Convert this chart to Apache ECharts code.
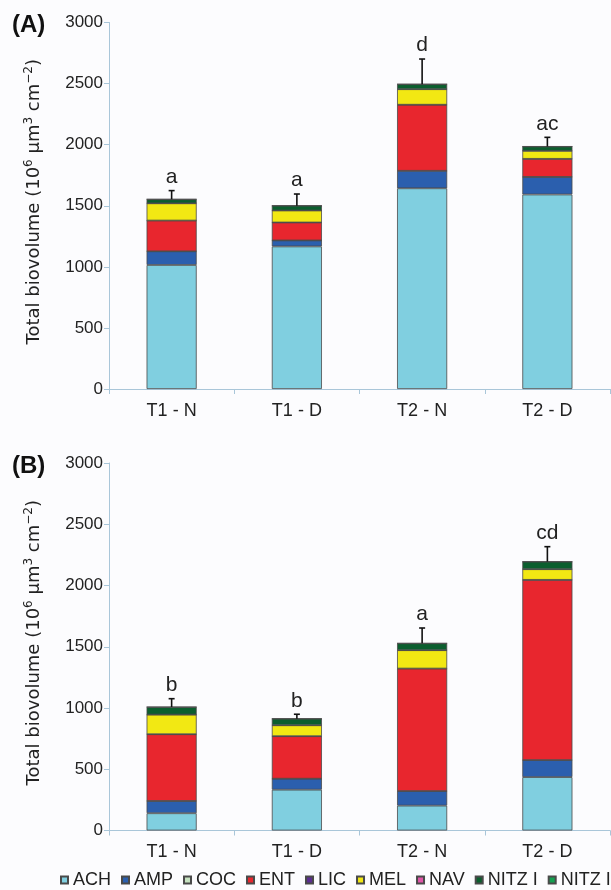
<!DOCTYPE html>
<html>
<head>
<meta charset="utf-8">
<script src="https://cdn.jsdelivr.net/npm/echarts@6/dist/echarts.min.js"></script>
<style>html,body{margin:0;padding:0;background:#fcfcfe;}#c{width:611px;height:890px;}</style>
</head>
<body>
<div id="c"></div>
<script>
const categories = ['T1 - N', 'T1 - D', 'T2 - N', 'T2 - D'];
const taxa = ['ACH', 'AMP', 'COC', 'ENT', 'LIC', 'MEL', 'NAV', 'NITZ I', 'NITZ II'];
const yTicks = [0, 500, 1000, 1500, 2000, 2500, 3000];

// Panel A values (10^6 µm^3 cm^-2)
const A_ACH = [1015, 1167, 1643, 1592];
const A_AMP = [112, 49, 143, 144];
const A_COC = [0, 0, 0, 0];
const A_ENT = [252, 147, 541, 148];
const A_LIC = [0, 0, 0, 0];
const A_MEL = [141, 98, 127, 66];
const A_NAV = [0, 0, 0, 0];
const A_NITZ1 = [33, 40, 41, 35];
const A_NITZ2 = [0, 0, 0, 0];
const A_err = [71, 95, 206, 75];
const A_letters = ['a', 'a', 'd', 'ac'];

// Panel B values
const B_ACH = [141, 333, 203, 436];
const B_AMP = [100, 90, 119, 139];
const B_COC = [0, 0, 0, 0];
const B_ENT = [545, 347, 1000, 1471];
const B_LIC = [0, 0, 0, 0];
const B_MEL = [160, 89, 150, 87];
const B_NAV = [0, 0, 0, 0];
const B_NITZ1 = [62, 54, 56, 62];
const B_NITZ2 = [0, 0, 0, 0];
const B_err = [68, 36, 125, 122];
const B_letters = ['b', 'b', 'a', 'cd'];

const colors = ['#80cfe0', '#2b5fae', '#c6e2c0', '#e8262e', '#5b2d90', '#f2e813', '#e055a8', '#0b5e2e', '#14a050'];

const A_sets = [A_ACH, A_AMP, A_COC, A_ENT, A_LIC, A_MEL, A_NAV, A_NITZ1, A_NITZ2];
const B_sets = [B_ACH, B_AMP, B_COC, B_ENT, B_LIC, B_MEL, B_NAV, B_NITZ1, B_NITZ2];

function totals(sets) {
  return categories.map((_, i) => sets.reduce((s, arr) => s + arr[i], 0));
}

const axisColor = '#a9c6d9';
const textColor = '#222';
const yName = '{n|Total biovolume (10}{s|6}{n| \u00b5m}{s|3}{n| cm}{s|\u22122}{n|)}';

function makeX(gi) {
  return {
    type: 'category', gridIndex: gi, data: categories,
    axisLine: {lineStyle: {color: axisColor, width: 1}},
    axisTick: {show: true, length: 5, lineStyle: {color: axisColor}},
    axisLabel: {color: textColor, fontSize: 18, fontFamily: 'Liberation Sans, Arial', margin: 13}
  };
}
function makeY(gi) {
  return {
    type: 'value', gridIndex: gi, min: 0, max: 3000, interval: 500,
    name: yName, nameLocation: 'middle', nameGap: 63,
    nameTextStyle: {
      color: textColor, fontSize: 18, fontFamily: 'DejaVu Sans', padding: [0, 0, 0, 8],
      rich: {
        n: {fontSize: 18, fontFamily: 'DejaVu Sans', color: textColor, lineHeight: 23},
        s: {fontSize: 12, fontFamily: 'DejaVu Sans', color: textColor, lineHeight: 23, verticalAlign: 'top'}
      }
    },
    axisLine: {show: true, lineStyle: {color: axisColor, width: 1}},
    axisTick: {show: true, length: 5, lineStyle: {color: axisColor}},
    splitLine: {show: false},
    axisLabel: {color: textColor, fontSize: 17, fontFamily: 'Liberation Sans, Arial', margin: 6,
      formatter: v => yTicks.includes(v) ? String(v) : ''}
  };
}

function barSeries(sets, gi) {
  return taxa.map((name, k) => ({
    name: name, type: 'bar', stack: 'g' + gi, xAxisIndex: gi, yAxisIndex: gi,
    barWidth: '40%', data: sets[k],
    itemStyle: {color: colors[k], borderColor: '#4a4a4a', borderWidth: 0.8},
    emphasis: {disabled: true}
  }));
}

function errSeries(sets, errs, letters, gi) {
  const tot = totals(sets);
  return {
    type: 'custom', xAxisIndex: gi, yAxisIndex: gi, z: 10, clip: false,
    encode: {x: 0, y: 1},
    data: categories.map((c, i) => [i, tot[i], errs[i]]),
    renderItem: function (params, api) {
      const idx = api.value(0), total = api.value(1), err = api.value(2);
      const p0 = api.coord([idx, total]);
      const p1 = api.coord([idx, total + err]);
      return {
        type: 'group', children: [
          {type: 'line', shape: {x1: p0[0], y1: p0[1], x2: p1[0], y2: p1[1]}, style: {stroke: '#111', lineWidth: 1.6}},
          {type: 'line', shape: {x1: p1[0] - 3, y1: p1[1], x2: p1[0] + 3, y2: p1[1]}, style: {stroke: '#111', lineWidth: 1.6}},
          {type: 'text', x: p1[0], y: p1[1] - 3, style: {text: letters[params.dataIndex], textAlign: 'center', textVerticalAlign: 'bottom', font: '21px "Liberation Sans", Arial', fill: textColor}}
        ]
      };
    }
  };
}

const chart = echarts.init(document.getElementById('c'), null, {renderer: 'canvas'});
chart.setOption({
  backgroundColor: '#fcfcfe',
  animation: false,
  title: [
    {text: '(A)', left: 12, top: 13, padding: 0, textStyle: {fontSize: 24, fontWeight: 'bold', color: '#111', fontFamily: 'Liberation Sans, Arial'}},
    {text: '(B)', left: 12, top: 454, padding: 0, textStyle: {fontSize: 24, fontWeight: 'bold', color: '#111', fontFamily: 'Liberation Sans, Arial'}}
  ],
  legend: {
    data: taxa, left: 60, top: 871, width: 600, padding: 0,
    itemWidth: 7, itemHeight: 7, itemGap: 10, icon: 'rect',
    textStyle: {fontSize: 18, color: textColor, fontFamily: 'Liberation Sans, Arial'},
    selectedMode: false
  },
  grid: [
    {left: 109, top: 22.5, width: 501, height: 366.5},
    {left: 109, top: 463, width: 501, height: 367.5}
  ],
  xAxis: [makeX(0), makeX(1)],
  yAxis: [makeY(0), makeY(1)],
  series: [].concat(
    barSeries(A_sets, 0), barSeries(B_sets, 1),
    [errSeries(A_sets, A_err, A_letters, 0), errSeries(B_sets, B_err, B_letters, 1)]
  )
});
</script>
</body>
</html>
